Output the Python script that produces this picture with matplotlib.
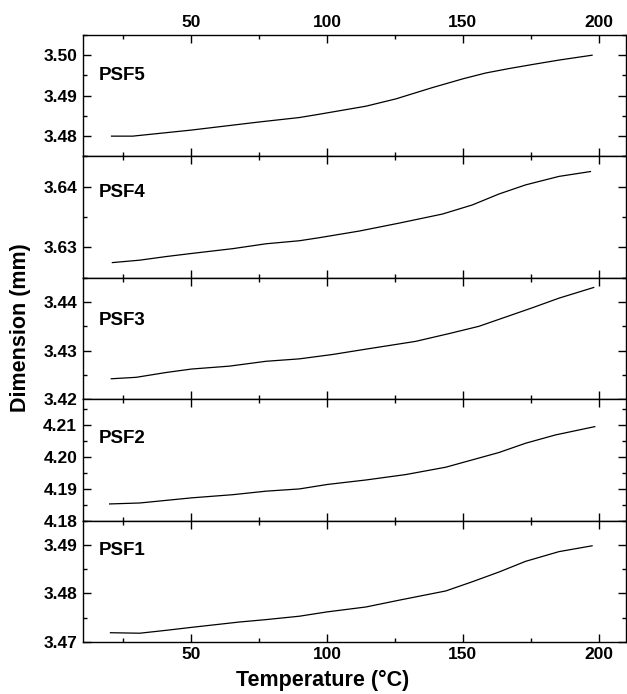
import matplotlib
matplotlib.use("Agg")
import matplotlib.pyplot as plt
from matplotlib.ticker import MultipleLocator, FormatStrFormatter

plt.rcParams['font.family'] = ['Liberation Sans', 'DejaVu Sans']
plt.rcParams['font.weight'] = 'bold'

# temperature (°C) and dimension (mm)
t_psf5 = [20.6, 28.4, 50, 75, 89.8, 97, 114.3, 125.3, 138.8, 150.2, 158.4, 167, 175.6, 185.4, 197.6]
d_psf5 = [3.4800, 3.4800, 3.4815, 3.4835, 3.4846, 3.4854, 3.4874, 3.4892, 3.4920, 3.4942, 3.4956,
          3.4967, 3.4977, 3.4988, 3.5000]

t_psf4 = [20.9, 31, 40.8, 50, 65.3, 77.5, 89.8, 97.1, 111.9, 126.5, 142.5, 153.5, 163.3, 173.1, 185.4, 197]
d_psf4 = [3.6275, 3.6279, 3.6285, 3.6290, 3.6298, 3.6306, 3.6311, 3.6316, 3.6327, 3.6340, 3.6355,
          3.6370, 3.6388, 3.6403, 3.6417, 3.6425]

t_psf3 = [20.5, 29.7, 40.8, 50, 64, 77.5, 89.8, 102, 114.3, 132.6, 144.9, 155.9, 165.7, 175.5, 185.4, 198.2]
d_psf3 = [3.4242, 3.4245, 3.4255, 3.4262, 3.4268, 3.4278, 3.4283, 3.4292, 3.4303, 3.4319, 3.4335,
          3.4350, 3.4369, 3.4388, 3.4408, 3.4430]

t_psf2 = [19.9, 31, 50, 65.3, 77.5, 89.8, 100.1, 114.3, 129, 143.7, 153.5, 163.3, 173.1, 184.1, 198.6]
d_psf2 = [4.1852, 4.1855, 4.1871, 4.1881, 4.1892, 4.1899, 4.1913, 4.1927, 4.1944, 4.1967, 4.1990,
          4.2013, 4.2042, 4.2068, 4.2094]

t_psf1 = [20.2, 31, 40.8, 50, 67.6, 77.5, 89.8, 100.1, 114.3, 126.5, 143.7, 153.5, 163.3, 173.1, 185.4, 197.6]
d_psf1 = [3.4719, 3.4718, 3.4724, 3.4730, 3.4741, 3.4746, 3.4753, 3.4762, 3.4772, 3.4786, 3.4805,
          3.4824, 3.4844, 3.4866, 3.4886, 3.4898]

names = ['PSF5', 'PSF4', 'PSF3', 'PSF2', 'PSF1']
temps = [t_psf5, t_psf4, t_psf3, t_psf2, t_psf1]
dims = [d_psf5, d_psf4, d_psf3, d_psf2, d_psf1]
ylims = [(3.475, 3.505), (3.625, 3.645), (3.42, 3.445), (4.18, 4.218), (3.47, 3.495)]
label_y = [0.67, 0.70, 0.645, 0.68, 0.75]

fig, axes = plt.subplots(5, 1, figsize=(6.27, 6.94), dpi=100, sharex=True)
fig.subplots_adjust(left=0.132, right=0.998, top=0.9496, bottom=0.075, hspace=0)

for i, ax in enumerate(axes):
    ax.plot(temps[i], dims[i], color='black', linewidth=0.9)
    ax.set_ylim(*ylims[i])
    ax.set_xlim(10, 210)
    ax.xaxis.set_major_locator(MultipleLocator(50))
    ax.xaxis.set_minor_locator(MultipleLocator(25))
    ax.yaxis.set_major_locator(MultipleLocator(0.01))
    ax.yaxis.set_minor_locator(MultipleLocator(0.005))
    ax.yaxis.set_major_formatter(FormatStrFormatter('%.2f'))
    ax.tick_params(which='both', direction='in', top=True, right=True, labelsize=12.5, width=1.0)
    ax.tick_params(which='major', length=6)
    ax.tick_params(which='minor', length=3)
    ax.tick_params(axis='y', which='major', pad=4)
    ax.tick_params(axis='x', labelbottom=(i == 4), labeltop=(i == 0))
    for s in ax.spines.values():
        s.set_linewidth(1.0)
    for lab in ax.get_xticklabels() + ax.get_yticklabels():
        lab.set_fontweight('bold')
    ax.text(0.03, label_y[i], names[i], transform=ax.transAxes, fontsize=13.5,
            fontweight='bold', va='center', ha='left')

fig.text(0.514, 0.019, 'Temperature (°C)', fontsize=15.5, fontweight='bold',
         va='center', ha='center')
fig.text(0.032, 0.528, 'Dimension (mm)', rotation=90, fontsize=15.5, fontweight='bold',
         va='center', ha='center')

fig.savefig('out.png', dpi=100)
